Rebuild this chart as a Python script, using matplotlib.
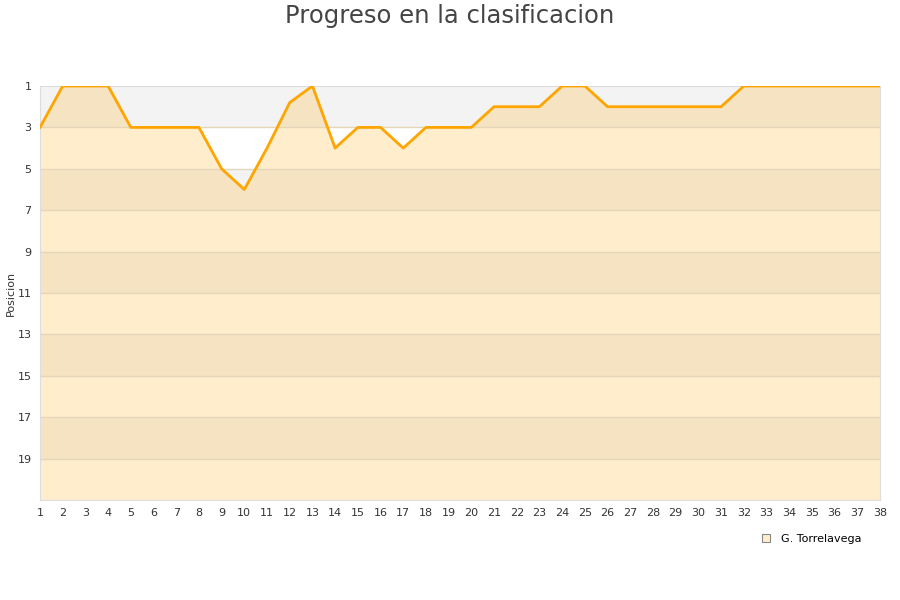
import matplotlib
matplotlib.use("Agg")
import matplotlib.pyplot as plt
import numpy as np

jornadas = list(range(1, 39))
posicion = [3, 1, 1, 1, 3, 3, 3, 3, 5, 6, 4, 1.8, 1, 4, 3, 3, 4, 3, 3, 3,
            2, 2, 2, 1, 1, 2, 2, 2, 2, 2, 2, 1, 1, 1, 1, 1, 1, 1]
yticks = [1, 3, 5, 7, 9, 11, 13, 15, 17, 19]
team = "G. Torrelavega"
title = "Progreso en la clasificacion"

fig = plt.figure(figsize=(9, 6), dpi=100)
ax = fig.add_axes([40/900, 1-500/600, 840/900, 414/600])

ymax = 21
# alternating background bands
for i, y0 in enumerate(range(1, ymax, 2)):
    ax.axhspan(y0, y0+2, color="#f3f3f3" if i % 2 == 0 else "white", lw=0, zorder=0)

ax.fill_between(jornadas, posicion, ymax, color="orange", alpha=0.2, lw=0, zorder=1)
for y in yticks[1:]:
    ax.axhline(y, color="#e6d6b8", lw=1, zorder=1.5)
ax.axhline(1, color="#d8d8d8", lw=1.2, zorder=1.5)
ax.plot(jornadas, posicion, color="#ffa500", lw=2.0, zorder=3)

ax.set_xlim(1, 38)
ax.set_ylim(ymax, 1)
ax.set_xticks(jornadas)
ax.set_yticks(yticks)
ax.tick_params(length=0, labelsize=8, colors="#333333", pad=6)
ax.spines["top"].set_visible(False)
for s in ["left", "bottom", "right"]:
    ax.spines[s].set_color("#dddddd")
ax.set_ylabel("Posicion", fontsize=8, color="#333333")
ax.yaxis.set_label_coords(-24/840, 0.5)

fig.text(0.5, 1-16/600, title, ha="center", va="center", fontsize=17.5, color="#444444")

# legend
from matplotlib.patches import Patch
handle = Patch(facecolor="#ffedcc", edgecolor="#888888", lw=0.8)
fig.legend([handle], [team], loc="center", bbox_to_anchor=(812/900, 1-539/600),
           frameon=False, fontsize=8, handlelength=0.7, handleheight=0.7, handletextpad=1.0)

fig.savefig("out.png", dpi=100)
